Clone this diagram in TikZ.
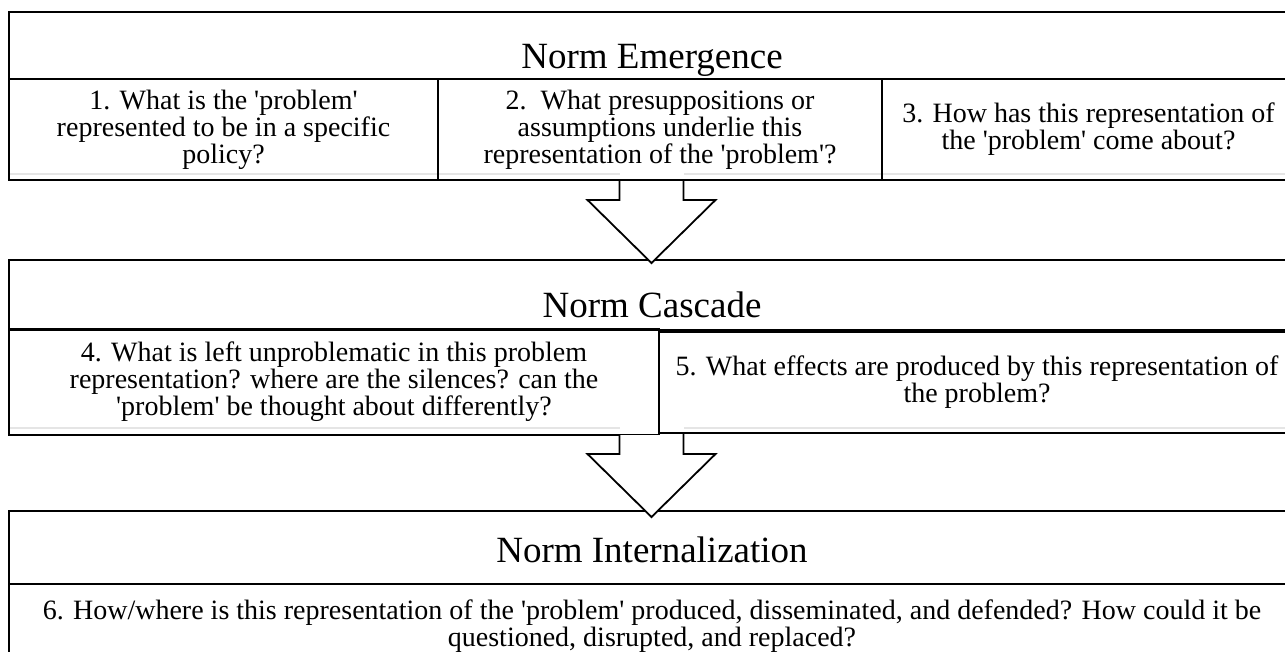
\documentclass[tikz,border=0pt]{standalone}
\usepackage{fontspec}
\setmainfont{Liberation Serif}[Ligatures=TeXOff]
\tikzset{
  every picture/.style={x=1pt,y=-1pt},
  frame/.style={draw=black, line width=1.8pt, inner sep=0pt, outer sep=0pt, anchor=north west, align=center, font=\fontsize{28}{27}\selectfont},
  ttl/.style={anchor=base, inner sep=0pt, font=\fontsize{37}{40}\selectfont},
  shadowline/.style={draw=black!10, line width=2.2pt},
  arrowedge/.style={draw=black, line width=1.8pt, line join=miter},
}
% white under the stem (hides the faint line)
\newcommand\arrstem[1]{%
  \fill[white] (#1) ++(-32,-9) rectangle ++(64,9);
}
% head fill over the next box, then outline
\newcommand\arrhead[1]{%
  \fill[white] (#1) ++(-32,1) -- ++(0,19) -- ++(-32,0) -- ++(64,63) -- ++(64,-63) -- ++(-32,0) -- ++(0,-19) -- cycle;
  \draw[arrowedge] (#1) ++(-32,0) -- ++(0,20) -- ++(-32,0) -- ++(64,63) -- ++(64,-63) -- ++(-32,0) -- ++(0,-20);
}
\begin{document}
\begin{tikzpicture}
\useasboundingbox (0,0) rectangle (1285,651);
\clip (0,0) rectangle (1285,651);
\fill[white] (0,0) rectangle (1285,651);
% faint shadow lines
\draw[shadowline] (10,174) -- (1295,174);
\draw[shadowline] (10,428) -- (1295,428);
\coordinate (a1) at (651.5,180);
\coordinate (a2) at (651.5,434);
\arrstem{a1}
\arrstem{a2}
% stage 1
\node[frame, minimum width=1286, minimum height=67] (h1) at (9,12) {};
\node[ttl] (t1) at (652,68) {Norm Emergence};
\node[frame, minimum width=429, minimum height=101] (b1) at (9,79) {1. What is the 'problem'\\represented to be in a specific\\policy?};
\node[frame, minimum width=444, minimum height=101] (b2) at (438,79) {2.\ \ What presuppositions or\\assumptions underlie this\\representation of the 'problem'?};
\node[frame, minimum width=413, minimum height=101] (b3) at (882,79) {3. How has this representation of\\the 'problem' come about?};
% stage 2
\node[frame, minimum width=1286, minimum height=70] (h2) at (9,260) {};
\node[ttl] (t2) at (652,317) {Norm Cascade};
\node[frame, minimum width=650, minimum height=106] (b4) at (9,329) {4. What is left unproblematic in this problem\\representation? where are the silences? can the\\'problem' be thought about differently?};
\node[frame, minimum width=636, minimum height=101] (b5) at (659,332) {5. What effects are produced by this representation of\\the problem?};
% stage 3
\node[frame, minimum width=1286, minimum height=73] (h3) at (9,511) {};
\node[ttl] (t3) at (652,562) {Norm Internalization};
\node[frame, minimum width=1286, minimum height=84] (b6) at (9,584) {6. How/where is this representation of the 'problem' produced, disseminated, and defended? How could it be\\questioned, disrupted, and replaced?};
% arrows
\arrhead{a1}
\arrhead{a2}
\end{tikzpicture}
\end{document}
